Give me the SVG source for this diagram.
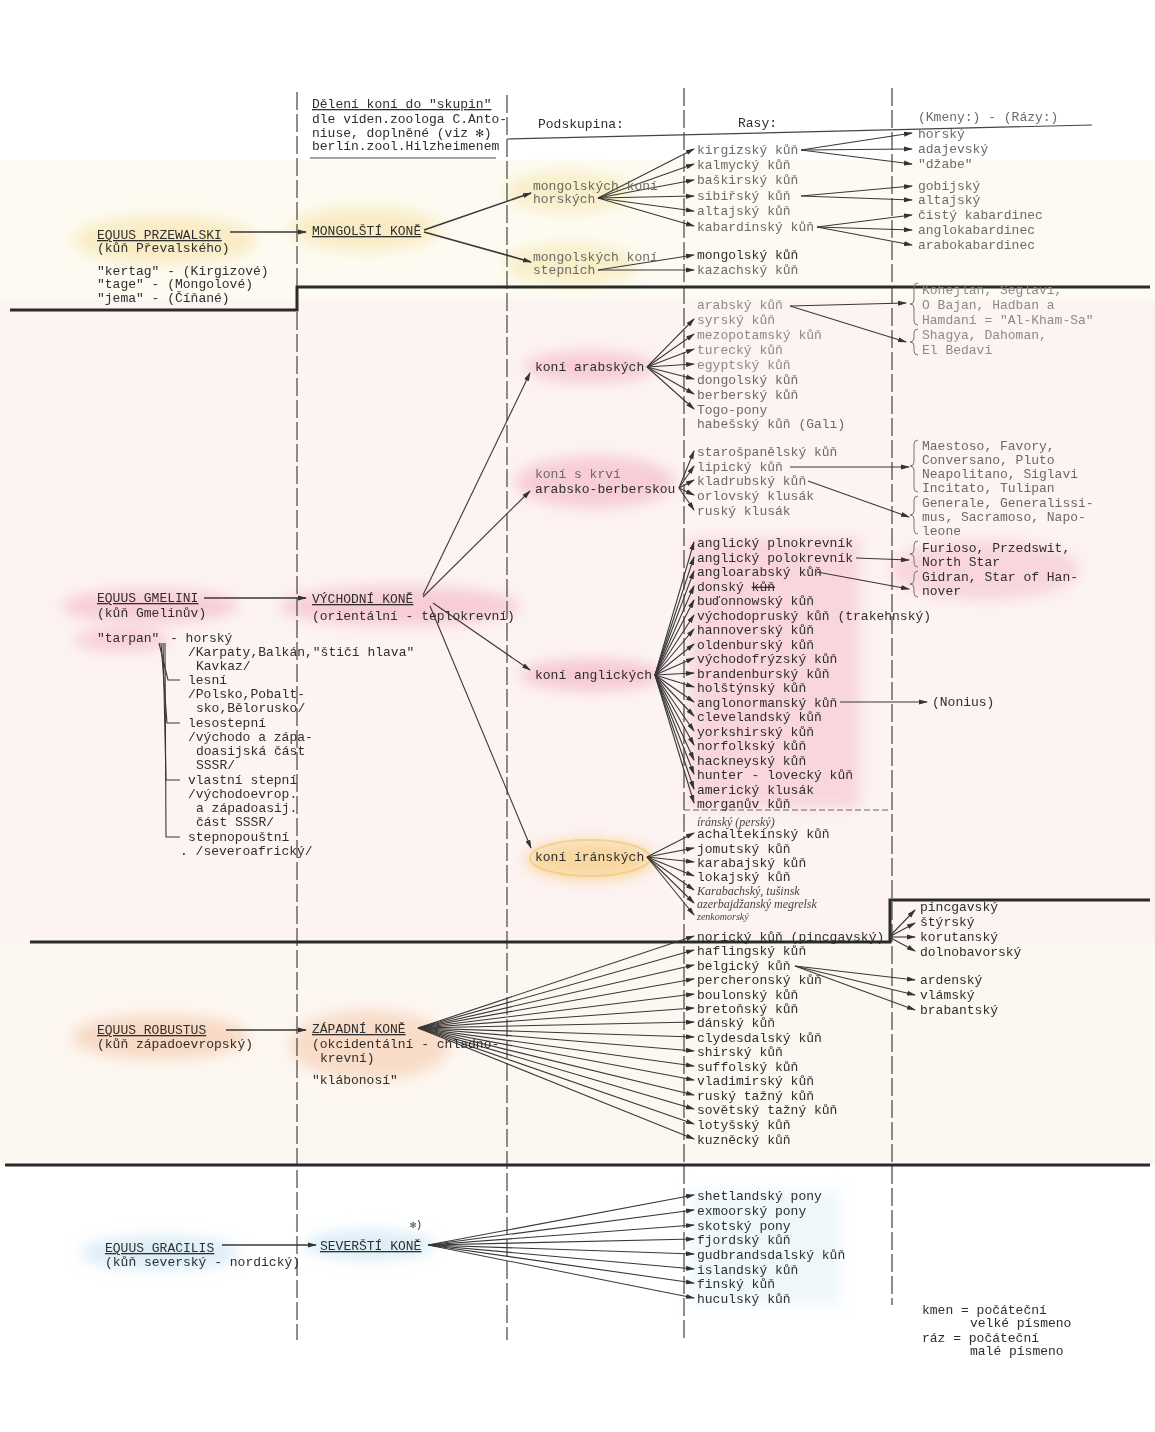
<svg xmlns="http://www.w3.org/2000/svg" width="1155" height="1432" viewBox="0 0 1155 1432">
<defs>
<style>
text{font-family:"Liberation Mono","DejaVu Sans Mono",monospace;font-size:13px;fill:#2e2e2e}
.g{fill:#6a6a6a}
.lg{fill:#8a8a8a}
.u{text-decoration:underline}
.hw{font-family:"Liberation Serif","DejaVu Serif",serif;font-style:italic;font-size:12px;fill:#444}
.c line,.c path{stroke:#383838;stroke-width:1.1;fill:none}
.c .a{marker-end:url(#ah)}
.c .m{stroke-width:1.6}
.vd{stroke:#444;stroke-width:1.2;stroke-dasharray:18 4;fill:none}
.sep{stroke:#2a2a2a;stroke-width:3;fill:none}
.br{stroke:#777;stroke-width:1;fill:none}
</style>
<marker id="ah" markerWidth="9" markerHeight="6" refX="8" refY="3" orient="auto" markerUnits="userSpaceOnUse"><path d="M0,0.5 L9,3 L0,5.5 z" fill="#333"/></marker>
<filter id="bl" x="-30%" y="-60%" width="160%" height="220%"><feGaussianBlur stdDeviation="7"/></filter>
</defs>
<rect width="1155" height="1432" fill="#ffffff"/>
<!-- band tints -->
<rect x="0" y="160" width="1155" height="140" fill="#fdfbf1"/>
<rect x="0" y="300" width="1155" height="642" fill="#fdf3f3"/>
<rect x="0" y="942" width="1155" height="223" fill="#fdf7f1"/>
<!-- highlights -->
<g id="highlights" filter="url(#bl)">
<ellipse cx="165" cy="240" rx="92" ry="24" fill="#f6e3a6" opacity="0.6"/>
<ellipse cx="365" cy="229" rx="75" ry="22" fill="#f6e3a6" opacity="0.6"/>
<ellipse cx="568" cy="192" rx="62" ry="20" fill="#f6e3a6" opacity="0.55"/>
<ellipse cx="572" cy="264" rx="66" ry="20" fill="#f6e3a6" opacity="0.55"/>
<ellipse cx="150" cy="606" rx="88" ry="17" fill="#f0a0b6" opacity="0.45"/>
<ellipse cx="122" cy="640" rx="48" ry="11" fill="#f0a0b6" opacity="0.45"/>
<ellipse cx="400" cy="606" rx="120" ry="20" fill="#f0a0b6" opacity="0.45"/>
<ellipse cx="590" cy="367" rx="66" ry="16" fill="#f0a0b6" opacity="0.45"/>
<ellipse cx="595" cy="482" rx="80" ry="26" fill="#f0a0b6" opacity="0.45"/>
<ellipse cx="592" cy="675" rx="72" ry="16" fill="#f0a0b6" opacity="0.5"/>
<rect x="690" y="538" width="170" height="270" fill="#f0a0b6" opacity="0.35"/>
<ellipse cx="985" cy="570" rx="95" ry="30" fill="#f0a0b6" opacity="0.35"/>
<ellipse cx="590" cy="860" rx="64" ry="20" fill="#f5c46a" opacity="0.6"/>
<ellipse cx="160" cy="1037" rx="88" ry="22" fill="#efb48c" opacity="0.45"/>
<ellipse cx="370" cy="1045" rx="80" ry="35" fill="#efb48c" opacity="0.4"/>
<ellipse cx="160" cy="1253" rx="80" ry="17" fill="#b9dcef" opacity="0.5"/>
<ellipse cx="370" cy="1245" rx="65" ry="15" fill="#b9dcef" opacity="0.5"/>
<rect x="690" y="1190" width="150" height="115" fill="#d6ecf6" opacity="0.4"/>
</g>
<ellipse cx="590" cy="858" rx="60" ry="18" fill="none" stroke="#f0c050" stroke-width="2" opacity="0.5"/>

<!-- frame lines -->
<g id="frame">
<line class="vd" x1="297" y1="92" x2="297" y2="1340"/>
<line class="vd" x1="507" y1="95" x2="507" y2="1340"/>
<line class="vd" x1="684" y1="88" x2="684" y2="1340"/>
<line class="vd" x1="892" y1="88" x2="892" y2="1305"/>
<path class="sep" d="M10,310 H297 V287 H1150"/>
<path class="sep" d="M30,942 H890 V900 H1150"/>
<path class="sep" d="M5,1165 H1150"/>
<line x1="310" y1="158" x2="496" y2="158" stroke="#444" stroke-width="1.2"/>
<line x1="507" y1="139" x2="1092" y2="125" stroke="#444" stroke-width="1.2"/>
<line x1="684" y1="810" x2="890" y2="810" stroke="#666" stroke-width="1" stroke-dasharray="6 3"/>
</g>

<!-- header -->
<g id="header">
<text x="312" y="108" class="u">Dělení koní do "skupin"</text>
<text x="312" y="123">dle víden.zoologa C.Anto-</text>
<text x="312" y="137">niuse, doplněné (viz ✻)</text>
<text x="312" y="150">berlín.zool.Hilzheimenem</text>
<text x="538" y="128">Podskupina:</text>
<text x="738" y="127">Rasy:</text>
<text x="918" y="121" class="g">(Kmeny:) - (Rázy:)</text>
</g>

<!-- connectors -->
<g id="connectors" class="c">
<!-- mongolian -->
<line class="a m" x1="230" y1="232" x2="306" y2="232"/>
<line class="a m" x1="424" y1="230" x2="531" y2="193"/>
<line class="a m" x1="424" y1="232" x2="531" y2="262"/>
<line class="a" x1="598" y1="198" x2="694" y2="149"/>
<line class="a" x1="598" y1="198" x2="694" y2="164"/>
<line class="a" x1="598" y1="198" x2="694" y2="180"/>
<line class="a" x1="598" y1="198" x2="694" y2="196"/>
<line class="a" x1="598" y1="198" x2="694" y2="211"/>
<line class="a" x1="598" y1="198" x2="694" y2="226"/>
<line class="a" x1="598" y1="270" x2="694" y2="255"/>
<line class="a" x1="598" y1="270" x2="694" y2="270"/>
<line class="a" x1="801" y1="150" x2="912" y2="133"/>
<line class="a" x1="801" y1="150" x2="912" y2="149"/>
<line class="a" x1="801" y1="150" x2="912" y2="164"/>
<line class="a" x1="801" y1="196" x2="912" y2="186"/>
<line class="a" x1="801" y1="196" x2="912" y2="200"/>
<line class="a" x1="817" y1="227" x2="912" y2="215"/>
<line class="a" x1="817" y1="227" x2="912" y2="230"/>
<line class="a" x1="817" y1="227" x2="912" y2="245"/>
<!-- eastern -->
<line class="a m" x1="204" y1="598" x2="306" y2="598"/>
<line class="a" x1="423" y1="595" x2="530" y2="373"/>
<line class="a" x1="423" y1="597" x2="530" y2="491"/>
<line class="a" x1="433" y1="603" x2="530" y2="670"/>
<line class="a" x1="430" y1="606" x2="531" y2="848"/>
<line class="a" x1="647" y1="367" x2="694" y2="319"/>
<line class="a" x1="647" y1="367" x2="694" y2="334"/>
<line class="a" x1="647" y1="367" x2="694" y2="349"/>
<line class="a" x1="647" y1="367" x2="694" y2="364"/>
<line class="a" x1="647" y1="367" x2="694" y2="379"/>
<line class="a" x1="647" y1="367" x2="694" y2="394"/>
<line class="a" x1="647" y1="367" x2="694" y2="409"/>
<line class="a" x1="790" y1="306" x2="906" y2="303"/>
<line class="a" x1="790" y1="306" x2="906" y2="342"/>
<line class="a" x1="679" y1="488" x2="694" y2="451"/>
<line class="a" x1="679" y1="488" x2="694" y2="466"/>
<line class="a" x1="679" y1="488" x2="694" y2="480"/>
<line class="a" x1="679" y1="488" x2="694" y2="495"/>
<line class="a" x1="679" y1="488" x2="694" y2="510"/>
<line class="a" x1="790" y1="467" x2="909" y2="467"/>
<line class="a" x1="808" y1="481" x2="909" y2="517"/>
<line class="a" x1="655" y1="675" x2="694" y2="542"/>
<line class="a" x1="655" y1="675" x2="694" y2="557"/>
<line class="a" x1="655" y1="675" x2="694" y2="571"/>
<line class="a" x1="655" y1="675" x2="694" y2="586"/>
<line class="a" x1="655" y1="675" x2="694" y2="600"/>
<line class="a" x1="655" y1="675" x2="694" y2="615"/>
<line class="a" x1="655" y1="675" x2="694" y2="629"/>
<line class="a" x1="655" y1="675" x2="694" y2="644"/>
<line class="a" x1="655" y1="675" x2="694" y2="658"/>
<line class="a" x1="655" y1="675" x2="694" y2="673"/>
<line class="a" x1="655" y1="675" x2="694" y2="687"/>
<line class="a" x1="655" y1="675" x2="694" y2="702"/>
<line class="a" x1="655" y1="675" x2="694" y2="716"/>
<line class="a" x1="655" y1="675" x2="694" y2="731"/>
<line class="a" x1="655" y1="675" x2="694" y2="745"/>
<line class="a" x1="655" y1="675" x2="694" y2="760"/>
<line class="a" x1="655" y1="675" x2="694" y2="774"/>
<line class="a" x1="655" y1="675" x2="694" y2="789"/>
<line class="a" x1="655" y1="675" x2="694" y2="803"/>
<line class="a" x1="856" y1="558" x2="909" y2="560"/>
<line class="a" x1="817" y1="572" x2="909" y2="589"/>
<line class="a" x1="840" y1="702" x2="927" y2="702"/>
<line class="a" x1="647" y1="857" x2="694" y2="833"/>
<line class="a" x1="647" y1="857" x2="694" y2="848"/>
<line class="a" x1="647" y1="857" x2="694" y2="862"/>
<line class="a" x1="647" y1="857" x2="694" y2="876"/>
<line class="a" x1="647" y1="857" x2="694" y2="890"/>
<line class="a" x1="647" y1="857" x2="694" y2="903"/>
<line class="a" x1="647" y1="857" x2="694" y2="915"/>
<path d="M159,643 L168,680 H180"/>
<path d="M161,643 L167,723 H180"/>
<path d="M163,643 L166,780 H180"/>
<path d="M165,643 L166,837 H180"/>
<!-- western -->
<line class="a m" x1="226" y1="1030" x2="306" y2="1030"/>
<line class="a" x1="418" y1="1028" x2="694" y2="936"/>
<line class="a" x1="418" y1="1028" x2="694" y2="950"/>
<line class="a" x1="418" y1="1028" x2="694" y2="965"/>
<line class="a" x1="418" y1="1028" x2="694" y2="979"/>
<line class="a" x1="418" y1="1028" x2="694" y2="994"/>
<line class="a" x1="418" y1="1028" x2="694" y2="1008"/>
<line class="a" x1="418" y1="1028" x2="694" y2="1022"/>
<line class="a" x1="418" y1="1028" x2="694" y2="1037"/>
<line class="a" x1="418" y1="1028" x2="694" y2="1051"/>
<line class="a" x1="418" y1="1028" x2="694" y2="1066"/>
<line class="a" x1="418" y1="1028" x2="694" y2="1080"/>
<line class="a" x1="418" y1="1028" x2="694" y2="1095"/>
<line class="a" x1="418" y1="1028" x2="694" y2="1109"/>
<line class="a" x1="418" y1="1028" x2="694" y2="1124"/>
<line class="a" x1="418" y1="1028" x2="694" y2="1139"/>
<line class="a" x1="889" y1="937" x2="915" y2="910"/>
<line class="a" x1="889" y1="937" x2="915" y2="923"/>
<line class="a" x1="889" y1="937" x2="915" y2="937"/>
<line class="a" x1="889" y1="937" x2="915" y2="951"/>
<line class="a" x1="795" y1="966" x2="915" y2="980"/>
<line class="a" x1="795" y1="966" x2="915" y2="995"/>
<line class="a" x1="795" y1="966" x2="915" y2="1010"/>
<!-- nordic -->
<line class="a m" x1="222" y1="1245" x2="316" y2="1245"/>
<line class="a" x1="428" y1="1245" x2="694" y2="1195"/>
<line class="a" x1="428" y1="1245" x2="694" y2="1210"/>
<line class="a" x1="428" y1="1245" x2="694" y2="1225"/>
<line class="a" x1="428" y1="1245" x2="694" y2="1239"/>
<line class="a" x1="428" y1="1245" x2="694" y2="1254"/>
<line class="a" x1="428" y1="1245" x2="694" y2="1269"/>
<line class="a" x1="428" y1="1245" x2="694" y2="1283"/>
<line class="a" x1="428" y1="1245" x2="694" y2="1298"/>
</g>

<!-- braces -->
<g id="braces">
<path class="br" d="M918,283 q-4,0 -4,4 v13 q0,4 -4,4 q4,0 4,4 v13 q0,4 4,4"/>
<path class="br" d="M918,329 q-4,0 -4,4 v5 q0,4 -4,4 q4,0 4,4 v5 q0,4 4,4"/>
<path class="br" d="M918,440 q-4,0 -4,4 v18 q0,4 -4,4 q4,0 4,4 v18 q0,4 4,4"/>
<path class="br" d="M918,496 q-4,0 -4,4 v11 q0,4 -4,4 q4,0 4,4 v11 q0,4 4,4"/>
<path class="br" d="M918,541 q-4,0 -4,4 v5 q0,4 -4,4 q4,0 4,4 v5 q0,4 4,4"/>
<path class="br" d="M918,571 q-4,0 -4,4 v5 q0,4 -4,4 q4,0 4,4 v5 q0,4 4,4"/>
</g>

<!-- Mongolian group -->
<g id="n-przewalski">
<text x="97" y="239" class="u">EQUUS PRZEWALSKI</text>
<text x="97" y="252">(kůň Převalského)</text>
<text x="97" y="275">"kertag" - (Kirgizové)</text>
<text x="97" y="288">"tage"   - (Mongolové)</text>
<text x="97" y="302">"jema"   - (Číňané)</text>
</g>
<g id="n-mongolsti"><text x="312" y="235" class="u">MONGOLŠTÍ KONĚ</text></g>
<g id="n-mong-horskych"><text x="533" y="190" class="g">mongolských koní</text><text x="533" y="203" class="g">horských</text></g>
<g id="n-mong-stepnich"><text x="533" y="261" class="g">mongolských koní</text><text x="533" y="274" class="g">stepních</text></g>
<g id="n-mong-races">
<text x="697" y="154" class="g">kirgizský kůň</text>
<text x="697" y="169" class="g">kalmycký kůň</text>
<text x="697" y="184" class="g">baškirský kůň</text>
<text x="697" y="200" class="g">sibiřský kůň</text>
<text x="697" y="215" class="g">altajský kůň</text>
<text x="697" y="231" class="g">kabardinský kůň</text>
<text x="697" y="259">mongolský kůň</text>
<text x="697" y="274" class="g">kazachský kůň</text>
</g>
<g id="n-mong-kmeny">
<text x="918" y="138" class="g">horský</text>
<text x="918" y="153" class="g">adajevský</text>
<text x="918" y="168" class="g">"džabe"</text>
<text x="918" y="190" class="g">gobijský</text>
<text x="918" y="204" class="g">altajský</text>
<text x="918" y="219" class="g">čistý kabardinec</text>
<text x="918" y="234" class="g">anglokabardinec</text>
<text x="918" y="249" class="g">arabokabardinec</text>
</g>

<!-- Eastern group -->
<g id="n-gmelini">
<text x="97" y="602" class="u">EQUUS GMELINI</text>
<text x="97" y="617">(kůň Gmelinův)</text>
<text x="97" y="642">"tarpan"</text>
</g>
<g id="n-tarpan-types">
<text x="170" y="642">- horský</text>
<text x="188" y="656">/Karpaty,Balkán,"štičí hlava"</text>
<text x="196" y="670">Kavkaz/</text>
<text x="188" y="684">lesní</text>
<text x="188" y="698">/Polsko,Pobalt-</text>
<text x="196" y="712">sko,Bělorusko/</text>
<text x="188" y="727">lesostepní</text>
<text x="188" y="741">/východo a zápa-</text>
<text x="196" y="755">doasijská část</text>
<text x="196" y="769">SSSR/</text>
<text x="188" y="784">vlastní stepní</text>
<text x="188" y="798">/východoevrop.</text>
<text x="196" y="812">a západoasij.</text>
<text x="196" y="826">část SSSR/</text>
<text x="188" y="841">stepnopouštní</text>
<text x="180" y="855">. /severoafrický/</text>
</g>
<g id="n-vychodni">
<text x="312" y="603" class="u">VÝCHODNÍ KONĚ</text>
<text x="312" y="620">(orientální - teplokrevní)</text>
</g>
<g id="n-arabskych"><text x="535" y="371">koní arabských</text></g>
<g id="n-arab-races">
<text x="697" y="309" class="lg">arabský kůň</text>
<text x="697" y="324" class="lg">syrský kůň</text>
<text x="697" y="339" class="lg">mezopotamský kůň</text>
<text x="697" y="354" class="lg">turecký kůň</text>
<text x="697" y="369" class="lg">egyptský kůň</text>
<text x="697" y="384" class="g">dongolský kůň</text>
<text x="697" y="399" class="g">berberský kůň</text>
<text x="697" y="414" class="g">Togo-pony</text>
<text x="697" y="428" class="g">habešský kůň (Galı)</text>
</g>
<g id="n-arab-kmeny">
<text x="922" y="294" class="lg">Kohejlan, Seglavi,</text>
<text x="922" y="309" class="lg">O Bajan, Hadban a</text>
<text x="922" y="324" class="lg">Hamdaní = "Al-Kham-Sa"</text>
<text x="922" y="339" class="lg">Shagya, Dahoman,</text>
<text x="922" y="354" class="lg">El Bedavi</text>
</g>
<g id="n-krvi"><text x="535" y="478" class="g">koní s krví</text><text x="535" y="493">arabsko-berberskou</text></g>
<g id="n-krvi-races">
<text x="697" y="456" class="g">starošpanělský kůň</text>
<text x="697" y="471" class="g">lipický kůň</text>
<text x="697" y="485" class="g">kladrubský kůň</text>
<text x="697" y="500" class="g">orlovský klusák</text>
<text x="697" y="515" class="g">ruský klusák</text>
</g>
<g id="n-krvi-kmeny">
<text x="922" y="450" class="g">Maestoso, Favory,</text>
<text x="922" y="464" class="g">Conversano, Pluto</text>
<text x="922" y="478" class="g">Neapolitano, Siglavi</text>
<text x="922" y="492" class="g">Incitato, Tulipan</text>
<text x="922" y="507" class="g">Generale, Generalissi-</text>
<text x="922" y="521" class="g">mus, Sacramoso, Napo-</text>
<text x="922" y="535" class="g">leone</text>
</g>
<g id="n-anglickych"><text x="535" y="679">koní anglických</text></g>
<g id="n-angl-races">
<text x="697" y="547">anglický plnokrevník</text>
<text x="697" y="562">anglický polokrevník</text>
<text x="697" y="576">angloarabský kůň</text>
<text x="697" y="591">donský <tspan text-decoration="line-through">kůň</tspan></text>
<text x="697" y="605">buďonnowský kůň</text>
<text x="697" y="620">východopruský kůň (trakehnský)</text>
<text x="697" y="634">hannoverský kůň</text>
<text x="697" y="649">oldenburský kůň</text>
<text x="697" y="663">východofrýzský kůň</text>
<text x="697" y="678">brandenburský kůň</text>
<text x="697" y="692">holštýnský kůň</text>
<text x="697" y="707">anglonormanský kůň</text>
<text x="697" y="721">clevelandský kůň</text>
<text x="697" y="736">yorkshirský kůň</text>
<text x="697" y="750">norfolkský kůň</text>
<text x="697" y="765">hackneyský kůň</text>
<text x="697" y="779">hunter - lovecký kůň</text>
<text x="697" y="794">americký klusák</text>
<text x="697" y="808">morganův kůň</text>
</g>
<g id="n-angl-kmeny">
<text x="922" y="552">Furioso, Przedswit,</text>
<text x="922" y="566">North Star</text>
<text x="922" y="581">Gidran, Star of Han-</text>
<text x="922" y="595">nover</text>
<text x="932" y="706">(Nonius)</text>
</g>
<g id="n-iranskych"><text x="535" y="861">koní íránských</text></g>
<g id="n-iran-races">
<text x="697" y="826" class="hw">íránský (perský)</text>
<text x="697" y="838">achaltekinský kůň</text>
<text x="697" y="853">jomutský kůň</text>
<text x="697" y="867">karabajský kůň</text>
<text x="697" y="881">lokajský kůň</text>
<text x="697" y="895" class="hw">Karabachský,  tušinsk</text>
<text x="697" y="908" class="hw">azerbajdžanský  megrelsk</text>
<text x="697" y="920" class="hw" style="font-size:10px">zenkomorský</text>
</g>

<!-- Western group -->
<g id="n-robustus">
<text x="97" y="1034" class="u">EQUUS ROBUSTUS</text>
<text x="97" y="1048">(kůň západoevropský)</text>
</g>
<g id="n-zapadni">
<text x="312" y="1033" class="u">ZÁPADNÍ KONĚ</text>
<text x="312" y="1048">(okcidentální - chladno-</text>
<text x="320" y="1062">krevní)</text>
<text x="312" y="1084">"klábonosí"</text>
</g>
<g id="n-zap-races">
<text x="697" y="941">norický kůň (pincgavský)</text>
<text x="697" y="955">haflingský kůň</text>
<text x="697" y="970">belgický kůň</text>
<text x="697" y="984">percheronský kůň</text>
<text x="697" y="999">boulonský kůň</text>
<text x="697" y="1013">bretoňský kůň</text>
<text x="697" y="1027">dánský kůň</text>
<text x="697" y="1042">clydesdalský kůň</text>
<text x="697" y="1056">shirský kůň</text>
<text x="697" y="1071">suffolský kůň</text>
<text x="697" y="1085">vladimirský kůň</text>
<text x="697" y="1100">ruský tažný kůň</text>
<text x="697" y="1114">sovětský tažný kůň</text>
<text x="697" y="1129">lotyšský kůň</text>
<text x="697" y="1144">kuzněcký kůň</text>
</g>
<g id="n-zap-kmeny">
<text x="920" y="911">pincgavský</text>
<text x="920" y="926">štýrský</text>
<text x="920" y="941">korutanský</text>
<text x="920" y="956">dolnobavorský</text>
<text x="920" y="984">ardenský</text>
<text x="920" y="999">vlámský</text>
<text x="920" y="1014">brabantský</text>
</g>

<!-- Nordic group -->
<g id="n-gracilis">
<text x="105" y="1252" class="u">EQUUS GRACILIS</text>
<text x="105" y="1266">(kůň severský - nordický)</text>
</g>
<g id="n-seversti">
<text x="320" y="1250" class="u">SEVERŠTÍ KONĚ</text>
<text x="410" y="1228" style="font-size:10px">✻)</text>
</g>
<g id="n-sev-races">
<text x="697" y="1200">shetlandský pony</text>
<text x="697" y="1215">exmoorský pony</text>
<text x="697" y="1230">skotský pony</text>
<text x="697" y="1244">fjordský kůň</text>
<text x="697" y="1259">gudbrandsdalský kůň</text>
<text x="697" y="1274">islandský kůň</text>
<text x="697" y="1288">finský kůň</text>
<text x="697" y="1303">huculský kůň</text>
</g>

<!-- legend -->
<g id="legend">
<text x="922" y="1314">kmen = počáteční</text>
<text x="970" y="1327">velké písmeno</text>
<text x="922" y="1342">ráz  = počáteční</text>
<text x="970" y="1355">malé písmeno</text>
</g>
</svg>
